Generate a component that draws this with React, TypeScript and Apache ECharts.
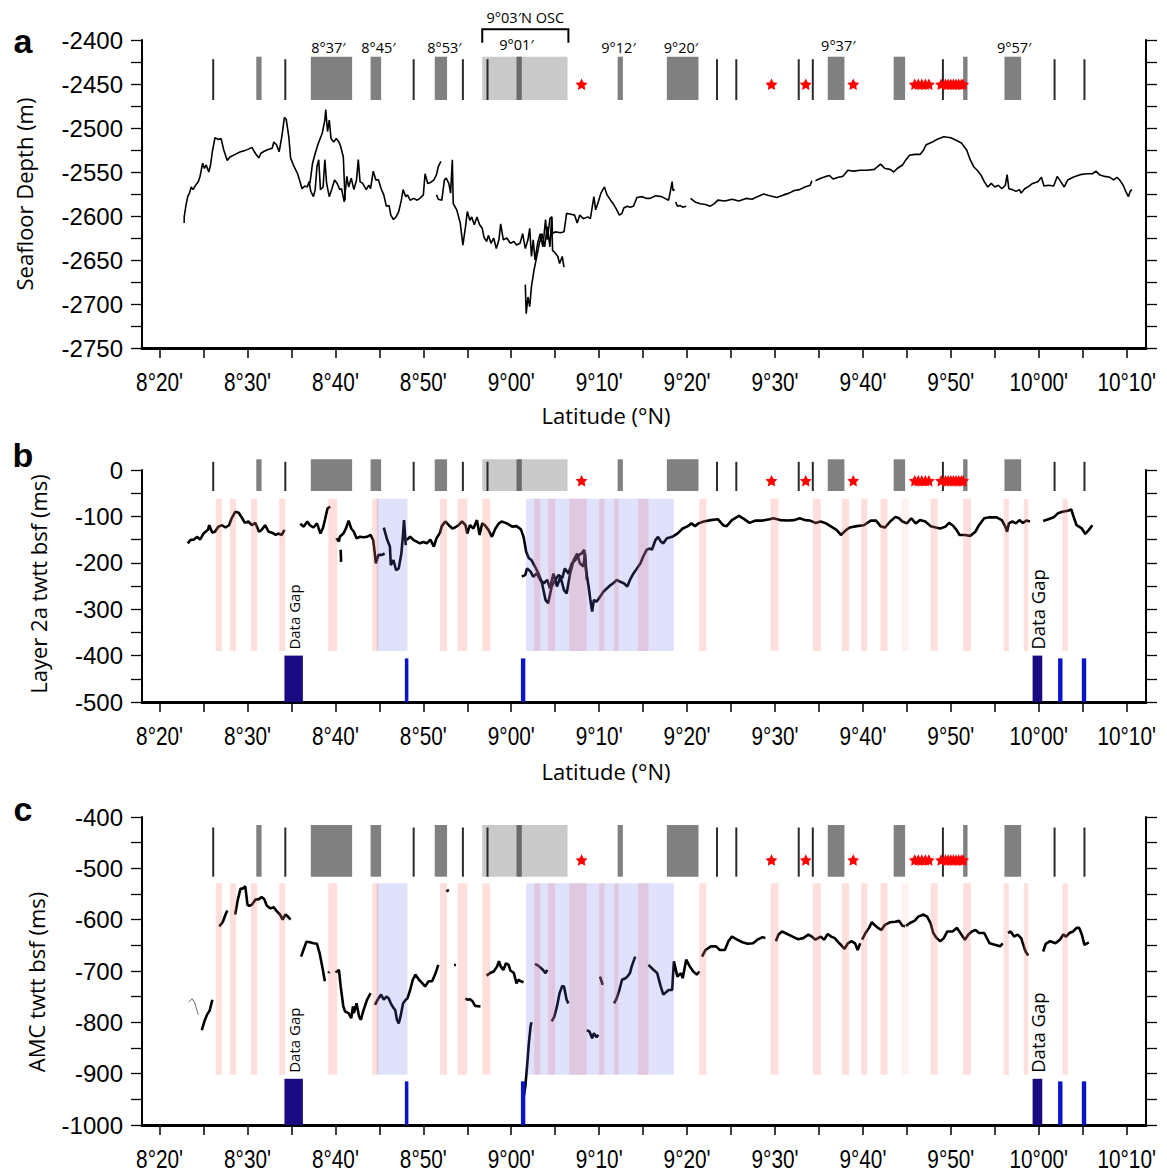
import React, { useEffect, useRef } from "react";
import * as echarts from "echarts";

// ---------- axes (latitude in minutes: 500 = 8°20') ----------
const X_MIN = 498;
const X_MAX = 612.2;
const X_TICKS = [500, 505, 510, 515, 520, 525, 530, 535, 540, 545, 550, 555, 560, 565, 570, 575, 580, 585, 590, 595, 600, 605, 610];
const X_LABELS = [500, 510, 520, 530, 540, 550, 560, 570, 580, 590, 600, 610];

// ---------- panel a: seafloor depth (m) ----------
const seafloorMain = [[502.8,-2608],[502.8,-2601],[503.0,-2588],[503.2,-2578],[503.4,-2574],[503.6,-2567],[503.8,-2570],[504.1,-2565],[504.4,-2561],[504.6,-2555],[504.9,-2540],[505.1,-2546],[505.3,-2542],[505.6,-2550],[505.8,-2542],[506.0,-2527],[506.3,-2511],[506.7,-2513],[507.0,-2512],[507.3,-2525],[507.7,-2537],[508.0,-2533],[508.6,-2530],[509.2,-2527],[509.6,-2526],[510.1,-2524],[510.5,-2522],[510.9,-2529],[511.3,-2534],[511.5,-2529],[511.8,-2527],[512.2,-2525],[512.8,-2523],[513.0,-2516],[513.3,-2519],[513.6,-2527],[513.9,-2510],[514.2,-2488],[514.4,-2490],[514.7,-2510],[514.9,-2534],[515.3,-2544],[515.7,-2552],[516.0,-2562],[516.2,-2569],[516.5,-2566],[516.8,-2567],[517.0,-2561],[517.2,-2572],[517.5,-2578],[517.7,-2570],[517.9,-2544],[518.1,-2536],[518.3,-2570],[518.6,-2567],[518.8,-2536],[519.0,-2563],[519.3,-2578],[519.6,-2569],[519.9,-2559],[520.2,-2563],[520.5,-2570],[520.7,-2569],[521.0,-2584],[521.3,-2555],[521.5,-2567],[521.8,-2557],[522.1,-2570],[522.4,-2559],[522.6,-2536],[522.8,-2561],[523.1,-2563],[523.5,-2570],[523.8,-2565],[524.0,-2569],[524.3,-2549],[524.6,-2559],[524.9,-2559],[525.2,-2569],[525.5,-2576],[525.8,-2589],[526.1,-2588],[526.3,-2599],[526.6,-2604],[526.9,-2601],[527.2,-2595],[527.5,-2582],[527.7,-2570],[528.0,-2578],[528.2,-2576],[528.5,-2582],[528.9,-2580],[529.3,-2582],[529.6,-2580],[530.0,-2576],[530.2,-2552],[530.5,-2563],[530.8,-2562],[531.2,-2559],[531.5,-2553],[531.7,-2544],[532.0,-2538]];
const seafloorUpper = [[517.1,-2563],[517.4,-2540],[517.7,-2529],[518.0,-2519],[518.3,-2511],[518.5,-2506],[518.8,-2491],[518.9,-2479],[519.1,-2504],[519.3,-2491],[519.5,-2512],[519.8,-2516],[520.1,-2512],[520.4,-2516],[520.6,-2521],[520.9,-2533],[521.1,-2582]];
const seafloorCenter = [[531.5,-2576],[531.7,-2581],[532.1,-2582],[532.4,-2559],[532.6,-2557],[532.9,-2563],[533.1,-2574],[533.3,-2536],[533.4,-2586],[533.8,-2593],[534.2,-2608],[534.5,-2633],[534.8,-2612],[535.0,-2595],[535.3,-2605],[535.5,-2601],[535.8,-2610],[536.1,-2601],[536.4,-2610],[536.7,-2614],[536.9,-2624],[537.2,-2629],[537.4,-2622],[537.7,-2631],[538.0,-2625],[538.3,-2637],[538.6,-2627],[538.8,-2609],[539.1,-2627],[539.5,-2625],[539.9,-2631],[540.3,-2629],[540.6,-2633],[541.0,-2631],[541.3,-2620],[541.6,-2637],[541.9,-2627],[542.1,-2614],[542.3,-2646],[542.5,-2627],[542.7,-2650],[543.0,-2631],[543.3,-2620],[543.6,-2635],[543.9,-2604],[544.1,-2627],[544.4,-2603],[544.6,-2601],[544.7,-2620],[545.0,-2618],[545.6,-2619],[546.0,-2618],[546.3,-2597],[546.8,-2598],[547.2,-2599],[547.5,-2608],[547.8,-2599],[548.2,-2603],[548.7,-2601],[549.0,-2603],[549.4,-2578],[549.6,-2593],[549.9,-2584],[550.2,-2574],[550.6,-2567],[550.9,-2576],[551.3,-2582],[551.6,-2586],[552.0,-2593],[552.3,-2599],[552.6,-2597],[552.8,-2591],[553.2,-2589],[553.5,-2590],[553.9,-2589],[554.3,-2579],[554.9,-2578],[555.4,-2580],[555.8,-2580],[556.4,-2577],[557.1,-2578],[557.9,-2582],[558.1,-2572],[558.3,-2561],[558.4,-2571],[558.6,-2570]];
const seafloorDeep = [[541.6,-2678],[541.7,-2711],[541.9,-2692],[542.1,-2703],[542.3,-2680],[542.6,-2661],[542.9,-2646],[543.2,-2631],[543.5,-2620],[543.8,-2635],[544.1,-2612],[544.4,-2635],[544.6,-2601],[544.7,-2639],[545.0,-2642],[545.3,-2646],[545.5,-2654],[545.8,-2646],[546.0,-2658]];
const seafloorShort = [[558.7,-2584],[558.9,-2589],[559.2,-2588],[559.5,-2590],[559.9,-2589]];
const seafloorNorthA = [[560.4,-2580],[560.9,-2584],[561.5,-2586],[562.1,-2587],[562.6,-2589],[563.1,-2586],[563.5,-2582],[564.3,-2583],[565.1,-2581],[565.9,-2583],[566.7,-2580],[567.4,-2581],[568.0,-2578],[568.7,-2575],[569.4,-2577],[570.2,-2579],[571.0,-2576],[571.6,-2574],[572.2,-2571],[572.8,-2570],[573.4,-2567],[574.0,-2565],[574.2,-2560]];
const seafloorNorthB = [[574.6,-2560],[575.2,-2557],[575.8,-2555],[576.2,-2554],[576.6,-2558],[577.2,-2556],[577.7,-2555],[578.3,-2548],[578.9,-2549],[579.7,-2548],[580.5,-2548],[581.3,-2547],[582.0,-2541],[582.5,-2546],[583.1,-2547],[583.5,-2550],[583.9,-2546],[584.5,-2542],[584.9,-2536],[585.3,-2531],[585.9,-2530],[586.5,-2530],[586.9,-2525],[587.2,-2519],[587.9,-2516],[588.4,-2513],[589.2,-2510],[590.0,-2511],[590.6,-2514],[591.2,-2517],[591.8,-2525],[592.2,-2536],[592.6,-2544],[593.0,-2548],[593.4,-2553],[593.8,-2561],[594.2,-2567],[594.6,-2563],[595.0,-2567],[595.4,-2565],[595.8,-2569],[596.2,-2565],[596.4,-2553],[596.6,-2569],[597.0,-2570],[597.4,-2572],[597.8,-2570],[598.0,-2574],[598.4,-2569],[598.9,-2566],[599.3,-2563],[599.9,-2561],[600.3,-2556],[600.6,-2566],[601.1,-2565],[601.7,-2566],[602.1,-2555],[602.5,-2561],[602.9,-2567],[603.3,-2559],[603.9,-2556],[604.7,-2553],[605.5,-2552],[606.1,-2552],[606.5,-2549],[606.9,-2553],[607.5,-2555],[608.1,-2556],[608.5,-2559],[608.9,-2556],[609.2,-2559],[609.6,-2565],[609.9,-2572],[610.2,-2578],[610.4,-2572],[610.6,-2570]];
const SEAFLOOR_SEGMENTS = [seafloorMain, seafloorUpper, seafloorCenter, seafloorDeep, seafloorShort, seafloorNorthA, seafloorNorthB];

// ---------- panel b: layer 2a twtt bsf (ms) ----------
const layerSouth = [[503.2,-158],[503.5,-151],[503.9,-150],[504.3,-144],[504.6,-150],[505.0,-137],[505.5,-129],[505.65,-119],[506.0,-135],[506.3,-133],[506.7,-122],[507.1,-119],[507.5,-124],[507.9,-119],[508.2,-104],[508.6,-90],[509.0,-92],[509.4,-104],[509.7,-114],[510.1,-111],[510.5,-119],[510.9,-114],[511.3,-133],[511.6,-129],[512.0,-119],[512.4,-133],[512.8,-135],[513.2,-140],[513.5,-137],[513.9,-140],[514.2,-129]];
const layerGapNorth = [[516.0,-116],[516.4,-122],[516.8,-111],[517.1,-119],[517.5,-124],[517.9,-115],[518.3,-137],[518.6,-124],[518.8,-108],[519.1,-83],[519.4,-79]];
const layerMid = [[520.1,-147],[520.4,-154],[520.5,-144],[520.9,-137],[521.2,-126],[521.5,-109],[521.8,-126],[522.1,-133],[522.4,-147],[522.8,-144],[523.2,-145],[523.6,-144],[524.0,-140],[524.3,-151],[524.5,-183],[524.6,-201],[524.9,-183],[525.3,-183],[525.6,-180]];
const layerBit = [[520.6,-172],[520.65,-198]];
const layerBox1 = [[525.5,-124],[525.9,-151],[526.2,-165],[526.3,-205],[526.6,-194],[526.9,-216],[527.2,-212],[527.5,-180],[527.7,-137],[527.8,-108],[528.0,-162]];
const layerLong = [[528.1,-151],[528.5,-144],[528.9,-151],[529.3,-155],[529.6,-158],[530.0,-155],[530.4,-158],[530.8,-150],[531.2,-165],[531.5,-147],[531.9,-135],[532.1,-121],[532.5,-111],[532.9,-119],[533.3,-126],[533.6,-124],[534.0,-119],[534.4,-111],[534.8,-119],[535.0,-137],[535.3,-119],[535.7,-126],[536.1,-108],[536.4,-140],[536.7,-115],[537.0,-119],[537.4,-129],[537.8,-144],[538.2,-126],[538.6,-115],[538.9,-111],[539.5,-115],[540.1,-122],[540.6,-121],[541.1,-128],[541.4,-144],[541.7,-176],[542.0,-190],[542.3,-194],[542.7,-208],[543.1,-223],[543.5,-244],[543.9,-280],[544.2,-287],[544.6,-251],[545.0,-237],[545.4,-226],[545.8,-233],[546.1,-212],[546.5,-223],[546.9,-201],[547.3,-194],[547.7,-183],[548.0,-180],[548.3,-172],[548.5,-216],[548.8,-251],[549.0,-280],[549.2,-305],[549.4,-280],[549.7,-284],[550.1,-273],[550.5,-262],[550.9,-255],[551.3,-248],[551.6,-244],[552.0,-237],[552.4,-241],[552.8,-244],[553.2,-251],[553.5,-237],[553.9,-223],[554.3,-212],[554.7,-201],[555.0,-187],[555.4,-172],[555.8,-169],[556.0,-172],[556.4,-151],[556.7,-144],[557.0,-154],[557.3,-158],[557.7,-147],[558.3,-144],[558.9,-137],[559.5,-126],[560.1,-121],[560.5,-115],[560.9,-121],[561.3,-115],[561.9,-111],[562.7,-108],[563.5,-106],[564.1,-119],[564.5,-121],[565.1,-108],[565.9,-99],[566.5,-106],[567.1,-114],[567.8,-109],[568.6,-109],[569.4,-106],[569.8,-104],[570.6,-108],[571.4,-109],[572.2,-108],[572.8,-104],[573.4,-108],[574.0,-109],[574.6,-114],[575.2,-111],[575.8,-115],[576.4,-122],[577.0,-129],[577.5,-140],[578.1,-129],[578.5,-124],[579.3,-121],[580.1,-119],[580.9,-109],[581.5,-109],[582.0,-121],[582.5,-124],[583.1,-111],[583.7,-101],[584.1,-104],[584.5,-111],[585.0,-115],[585.5,-104],[586.0,-115],[586.5,-108],[587.1,-111],[587.7,-121],[588.3,-124],[588.8,-126],[589.4,-122],[589.8,-114],[590.2,-119],[590.6,-128],[591.0,-140],[591.6,-140],[592.2,-142],[592.8,-133],[593.2,-119],[593.8,-104],[594.4,-102],[595.2,-102],[595.8,-108],[596.2,-122],[596.4,-133],[596.6,-115],[597.0,-111],[597.4,-115],[597.8,-108],[598.2,-114],[598.6,-109],[599.0,-111]];
const layerLoop = [[541.2,-230],[541.6,-226],[541.8,-212],[542.2,-219],[542.5,-230],[542.9,-223],[543.3,-237],[543.7,-244],[544.1,-237],[544.4,-255],[544.8,-223],[545.2,-251],[545.6,-230],[546.0,-259],[546.3,-266],[546.7,-223],[547.1,-194],[547.5,-180],[547.8,-201],[548.2,-208],[548.4,-180],[548.6,-237]];
const layerNorth = [[600.5,-110],[601.1,-106],[601.7,-102],[602.2,-93],[602.7,-90],[603.3,-88],[603.7,-85],[603.9,-97],[604.3,-119],[604.9,-126],[605.3,-138],[605.7,-129],[606.1,-119]];
const LAYER_SEGMENTS = [layerSouth, layerGapNorth, layerMid, layerBit, layerBox1, layerLong, layerLoop, layerNorth];

// ---------- panel c: AMC twtt bsf (ms) ----------
const amcThin = [[503.3,-761],[503.7,-754],[504.0,-762],[504.4,-785]];
const amc1 = [[504.8,-815],[505.1,-798],[505.4,-785],[505.7,-777],[506.0,-756]];
const amc2 = [[506.8,-613],[507.2,-604],[507.5,-590],[507.7,-582]];
const amc3 = [[508.6,-590],[508.9,-561],[509.2,-540],[509.5,-539],[509.75,-535],[510.0,-571],[510.2,-573],[510.5,-571],[510.9,-561],[511.3,-560],[511.6,-556],[511.9,-560],[512.2,-573],[512.6,-578],[513.0,-576],[513.35,-584],[513.7,-590],[514.0,-600],[514.3,-590],[514.6,-594],[514.9,-600]];
const amc4 = [[516.1,-672],[516.3,-662],[516.7,-643],[517.1,-644],[517.5,-646],[517.9,-647],[518.2,-665],[518.5,-691],[518.8,-720]];
const amc5 = [[519.2,-704],[519.3,-701]];
const amc6 = [[520.0,-703],[520.4,-698],[520.6,-730],[520.9,-769],[521.1,-779],[521.5,-782],[521.8,-792],[522.0,-769],[522.1,-782],[522.4,-763],[522.7,-789],[522.9,-795],[523.2,-776],[523.6,-756],[524.0,-743]];
const amc7 = [[524.5,-766],[524.9,-753],[525.2,-746],[525.5,-756],[525.8,-750],[526.05,-753],[526.3,-763],[526.6,-772],[526.8,-776],[527.0,-795],[527.2,-802],[527.4,-789],[527.7,-763],[528.0,-756],[528.2,-753],[528.5,-737],[528.8,-717],[529.1,-707],[529.5,-717],[529.8,-722],[530.2,-730],[530.6,-720],[531.0,-720],[531.4,-704],[531.7,-688]];
const amc8 = [[532.6,-545],[532.9,-542]];
const amc9 = [[533.5,-688],[533.7,-689]];
const amc10 = [[534.8,-753],[535.0,-756],[535.3,-755],[535.6,-759],[535.9,-768],[536.5,-769]];
const amc11 = [[537.2,-709],[537.6,-704],[538.0,-701],[538.4,-691],[538.6,-681],[538.8,-691],[539.1,-698],[539.4,-685],[539.7,-688],[539.9,-699],[540.3,-704],[540.6,-724],[540.8,-717],[541.1,-720],[541.4,-722]];
const amc12 = [[541.3,-958],[541.6,-925],[541.8,-886],[542.0,-841],[542.2,-808],[542.3,-800]];
const amc13 = [[542.7,-686],[543.1,-690],[543.5,-696],[543.9,-704],[544.1,-698]];
const amc14 = [[544.6,-798],[544.9,-789],[545.2,-769],[545.5,-743],[545.8,-729],[546.0,-730],[546.3,-756],[546.5,-763]];
const amc15 = [[548.6,-815],[548.9,-818],[549.2,-831],[549.4,-821],[549.7,-829],[549.9,-824]];
const amc16 = [[550.1,-711],[550.4,-727]];
const amc17 = [[551.7,-763],[552.0,-753],[552.3,-737],[552.6,-717],[553.0,-714],[553.2,-711],[553.5,-704],[553.7,-691],[554.1,-672]];
const amc18 = [[555.6,-688],[556.2,-698],[556.6,-704],[557.0,-730],[557.3,-746],[557.9,-737],[558.3,-737],[558.5,-681],[558.9,-711],[559.3,-704],[559.5,-714],[559.9,-678],[560.3,-691],[560.7,-701],[561.1,-707],[561.4,-701]];
const amc19 = [[561.7,-672],[562.1,-659],[562.7,-652],[563.3,-652],[563.7,-659],[564.3,-659],[564.7,-642],[565.1,-633],[565.7,-639],[566.3,-644],[566.9,-647],[567.5,-646],[568.0,-639],[568.6,-634],[568.9,-636]];
const amc20 = [[570.1,-642],[570.4,-629],[570.8,-623],[571.4,-628],[572.0,-633],[572.6,-638],[573.2,-636],[573.8,-629],[574.2,-633],[574.6,-639],[575.2,-633],[575.6,-639],[576.0,-628],[576.4,-633],[576.8,-636],[577.1,-642],[577.5,-649],[577.9,-657],[578.3,-646],[578.7,-642],[579.1,-646],[579.4,-659],[579.7,-646]];
const amc21 = [[579.9,-639],[580.3,-626],[580.7,-616],[581.0,-605],[581.3,-610],[581.7,-616],[582.1,-620],[582.5,-610],[583.1,-605],[583.7,-604],[584.1,-602],[584.5,-612],[584.8,-613]];
const amc22 = [[584.9,-612],[585.3,-607],[585.9,-602],[586.3,-594],[586.9,-590],[587.3,-594],[587.7,-607],[588.0,-626],[588.4,-636],[588.8,-642],[589.2,-636],[589.6,-623],[590.2,-623],[590.7,-616],[591.2,-629],[591.6,-639],[592.0,-629],[592.4,-623],[592.8,-620],[593.2,-626],[593.8,-626],[594.4,-646],[595.0,-649],[595.6,-652],[595.9,-646]];
const amc23 = [[596.5,-626],[596.8,-623],[597.2,-633],[597.6,-629],[598.0,-636],[598.3,-652],[598.5,-662],[598.8,-670]];
const amc24 = [[600.5,-662],[600.8,-647],[601.3,-642],[601.9,-646],[602.4,-639],[602.8,-629],[603.1,-633],[603.5,-626],[603.9,-623],[604.3,-616],[604.6,-616],[604.9,-629],[605.2,-649],[605.5,-646],[605.7,-644]];
const AMC_SEGMENTS = [amc1, amc2, amc3, amc4, amc5, amc6, amc7, amc8, amc9, amc10, amc11, amc12, amc13, amc14, amc15, amc16, amc17, amc18, amc19, amc20, amc21, amc22, amc23, amc24];

// ---------- ridge features (top strip of every panel) ----------
const featureLines = [506.1, 514.3, 528.9, 534.5, 537.3, 563.4, 565.6, 572.7, 574.3, 589.1, 601.8, 605.2];
const featureBars = [[511.0, 511.6], [517.2, 521.9], [524.0, 525.2], [531.3, 532.7], [552.1, 552.7], [557.7, 561.3], [576.0, 577.9], [583.5, 584.8], [591.4, 591.9], [596.1, 598.0]];
const oscBlock = [[536.7, 546.4]];
const oscDark = [[540.6, 541.2]];
const starLats = [548.0, 569.6, 573.5, 578.9, 585.9, 586.3, 586.7, 587.1, 587.5, 588.9, 589.4, 589.7, 590.0, 590.3, 590.6, 590.9, 591.2, 591.4];
const featureLabelLats = [519.2, 524.9, 532.4, 540.6, 552.2, 559.3, 577.2, 597.2];
const featureLabelTexts = ["8°37′", "8°45′", "8°53′", "9°01′", "9°12′", "9°20′", "9°37′", "9°57′"];
const oscBracket = [[536.7, 546.5]];
const oscLabelLat = [541.6];

// ---------- overlays in panels b and c ----------
const pinkStripes = [[506.4,507.1],[508.0,508.7],[510.4,511.1],[513.6,514.3],[519.2,520.2],[524.2,524.9],[531.9,532.7],[533.9,535.0],[536.7,537.6],[542.6,543.3],[544.2,545.0],[546.6,548.6],[550.0,550.6],[551.7,552.2],[554.4,555.6],[561.4,562.2],[569.5,570.4],[574.3,575.2],[577.6,578.4],[579.8,580.5],[582.0,582.8],[587.7,588.5],[591.4,592.3],[596.0,596.6],[598.3,598.8],[602.7,603.3]];
const pinkFaint = [[584.4, 585.2]];
const blueBoxes = [[524.7, 528.2], [541.7, 558.5]];
const stripeRangeB = [-62, -390];
const stripeRangeC = [-529, -902];
const gapNavy = [[514.2, 516.3], [599.3, 600.4]];
const gapBlue = [[527.9, 528.3], [541.1, 541.6], [602.2, 602.7], [604.9, 605.4]];
const gapTopB = [-400, -406];
const gapTopC = [-910, -915];
const dataGapLats = [515.25, 599.85];

// ---------- layout ----------
const GRID_LEFT = 142;
const GRID_RIGHT = 21;
const PANELS = [
  { top: 40, height: 308, min: -2750, max: -2400, interval: 25, labelStep: 50 },
  { top: 470, height: 232, min: -500, max: 0, interval: 50, labelStep: 100 },
  { top: 817, height: 308, min: -1000, max: -400, interval: 50, labelStep: 100 },
];
const BANDS = [
  { off: 16.7, h: 43.3, star: 44.3 },
  { off: -10.7, h: 31.7, star: 10.7 },
  { off: 8, h: 51.7, star: 43 },
];
const STAR_PATH = "M0,-10L2.94,-4.05L9.51,-3.09L4.76,1.55L5.88,8.09L0,5L-5.88,8.09L-4.76,1.55L-9.51,-3.09L-2.94,-4.05Z";
const SANS = "'Liberation Sans', Arial, sans-serif";
const MYRIAD = "'Open Sans', 'Noto Sans', sans-serif";

const latFmt = (v: number) => {
  const d = Math.floor(v / 60);
  const m = Math.round(v - d * 60);
  return `${d}°${String(m).padStart(2, "0")}'`;
};

function buildOption() {
  const grids: any[] = [];
  const xAxes: any[] = [];
  const yAxes: any[] = [];
  const series: any[] = [];

  PANELS.forEach((p, gi) => {
    grids.push({ left: GRID_LEFT, right: GRID_RIGHT, top: p.top, height: p.height, containLabel: false, outerBoundsMode: "none" });
    xAxes.push({
      gridIndex: gi, type: "value", min: X_MIN, max: X_MAX,
      axisLine: { show: true, onZero: false, lineStyle: { color: "#000", width: 3 } },
      axisTick: { show: true, inside: false, length: 10, customValues: X_TICKS, lineStyle: { color: "#000", width: 1.5 } },
      axisLabel: { show: false },
      splitLine: { show: false },
    });
    const yBase = {
      gridIndex: gi, type: "value", min: p.min, max: p.max, interval: p.interval,
      axisLine: { show: true, onZero: false, lineStyle: { color: "#000", width: 2 } },
      axisTick: { show: true, inside: false, length: 11, lineStyle: { color: "#000", width: 1.3 } },
      splitLine: { show: false },
    };
    yAxes.push({
      ...yBase, position: "left",
      axisLabel: { show: true, margin: 19, fontSize: 24, fontFamily: SANS, color: "#000",
        formatter: (v: number) => (Math.round(v) % p.labelStep === 0 ? String(Math.round(v)) : "") },
    });
    yAxes.push({ ...yBase, position: "right", axisLabel: { show: false } });

    // condensed latitude tick labels
    series.push({
      type: "custom", xAxisIndex: gi, yAxisIndex: gi * 2, z: 6, silent: true, clip: false,
      data: X_LABELS.map((v) => [v, p.min]), encode: { x: 0, y: 1 },
      renderItem: (_prm: any, api: any) => {
        const pt = api.coord([api.value(0), p.min]);
        return { type: "text", x: pt[0], y: pt[1] + 34, scaleX: 0.8,
          style: { text: latFmt(api.value(0)), fill: "#000", fontSize: 26, fontFamily: SANS, align: "center", verticalAlign: "middle" } };
      },
    });
  });

  const lineSeries = (seg: number[][], gi: number, width: number, color = "#000") => ({
    type: "line", xAxisIndex: gi, yAxisIndex: gi * 2, data: seg, showSymbol: false, symbol: "none",
    lineStyle: { color, width }, z: 2, silent: true, animation: false,
  });
  SEAFLOOR_SEGMENTS.forEach((s) => series.push(lineSeries(s, 0, 1.6)));
  LAYER_SEGMENTS.forEach((s) => series.push(lineSeries(s, 1, 2.6)));
  series.push(lineSeries(amcThin, 2, 0.8, "#444"));
  AMC_SEGMENTS.forEach((s) => series.push(lineSeries(s, 2, 2.6)));

  const rectSeries = (gi: number, rects: number[][], fill: string, z: number) => ({
    type: "custom", xAxisIndex: gi, yAxisIndex: gi * 2, z, silent: true, clip: false,
    data: rects, encode: { x: [0, 1], y: [2, 3] },
    renderItem: (_p: any, api: any) => {
      const a = api.coord([api.value(0), api.value(2)]);
      const b = api.coord([api.value(1), api.value(3)]);
      return { type: "rect", shape: { x: Math.min(a[0], b[0]), y: Math.min(a[1], b[1]), width: Math.abs(b[0] - a[0]), height: Math.abs(b[1] - a[1]) }, style: { fill } };
    },
  });

  [[1, stripeRangeB, gapTopB], [2, stripeRangeC, gapTopC]].forEach(([gi, rng, gapTop]: any) => {
    const ymin = PANELS[gi].min;
    series.push(rectSeries(gi, pinkStripes.map((s) => [s[0], s[1], rng[0], rng[1]]), "rgba(250,120,110,0.24)", 3));
    series.push(rectSeries(gi, pinkFaint.map((s) => [s[0], s[1], rng[0], rng[1]]), "rgba(250,120,110,0.1)", 3));
    series.push(rectSeries(gi, blueBoxes.map((s) => [s[0], s[1], rng[0], rng[1]]), "rgba(100,110,240,0.2)", 3));
    series.push(rectSeries(gi, gapNavy.map((s) => [s[0], s[1], gapTop[0], ymin]), "#1a0a82", 4));
    series.push(rectSeries(gi, gapBlue.map((s) => [s[0], s[1], gapTop[1], ymin]), "#0a14c8", 4));
    series.push({
      type: "custom", xAxisIndex: gi, yAxisIndex: gi * 2, z: 6, silent: true, clip: false,
      data: dataGapLats.map((l) => [l, gapTop[0]]), encode: { x: 0, y: 1 },
      renderItem: (_p: any, api: any) => {
        const pt = api.coord([api.value(0), api.value(1)]);
        const big = _p.dataIndex === 1;
        return { type: "text", x: pt[0], y: pt[1] - 6, rotation: Math.PI / 2,
          style: { text: "Data Gap", fill: "#000", fontSize: big ? 18.5 : 15, fontFamily: MYRIAD, align: "left", verticalAlign: "middle" } };
      },
    });
  });

  PANELS.forEach((p, gi) => {
    const b = BANDS[gi];
    const xOf = (api: any, v: number) => api.coord([v, p.min])[0];
    const base = { type: "custom", xAxisIndex: gi, yAxisIndex: gi * 2, z: 5, silent: true, clip: false };
    const bandRect = (data: number[][], fill: string) => ({
      ...base, data: data.map((d) => [d[0], d[1], p.min]), encode: { x: [0, 1], y: 2 },
      renderItem: (prm: any, api: any) => {
        const x0 = xOf(api, api.value(0));
        const x1 = xOf(api, api.value(1));
        return { type: "rect", shape: { x: x0, y: prm.coordSys.y + b.off, width: Math.max(x1 - x0, 1), height: b.h }, style: { fill } };
      },
    });
    series.push(bandRect(oscBlock, "#c9c9c9"));
    series.push(bandRect(featureBars, "#808080"));
    series.push(bandRect(oscDark, "#6a6a6a"));
    series.push({
      ...base, data: featureLines.map((v) => [v, p.min]), encode: { x: 0, y: 1 },
      renderItem: (prm: any, api: any) => {
        const x = xOf(api, api.value(0));
        const t = prm.coordSys.y + b.off;
        return { type: "line", shape: { x1: x, y1: t + 2.5, x2: x, y2: t + b.h }, style: { stroke: "#2a2a2a", lineWidth: 2 } };
      },
    });
    series.push({
      ...base, data: starLats.map((v) => [v, p.min]), encode: { x: 0, y: 1 },
      renderItem: (prm: any, api: any) => {
        const x = xOf(api, api.value(0));
        const y = prm.coordSys.y + b.star;
        return { type: "path", shape: { pathData: STAR_PATH, x: x - 6, y: y - 6, width: 12, height: 12 }, style: { fill: "#ff0000" } };
      },
    });
  });

  const base0 = { type: "custom", xAxisIndex: 0, yAxisIndex: 0, z: 6, silent: true, clip: false };
  const labelOff = [7.5, 7.5, 7.5, 4.2, 7.5, 7.5, 5.3, 7.8];
  series.push({
    ...base0, data: featureLabelLats.map((v) => [v, PANELS[0].min]), encode: { x: 0, y: 1 },
    renderItem: (prm: any, api: any) => {
      const x = api.coord([api.value(0), PANELS[0].min])[0];
      return { type: "text", x, y: prm.coordSys.y + labelOff[prm.dataIndex],
        style: { text: featureLabelTexts[prm.dataIndex], fill: "#000", fontSize: 14.5, fontFamily: MYRIAD, align: "center", verticalAlign: "middle" } };
    },
  });
  series.push({
    ...base0, data: oscBracket.map((d) => [d[0], d[1], PANELS[0].min]), encode: { x: [0, 1], y: 2 },
    renderItem: (prm: any, api: any) => {
      const x0 = api.coord([api.value(0), PANELS[0].min])[0];
      const x1 = api.coord([api.value(1), PANELS[0].min])[0];
      const t = prm.coordSys.y;
      return { type: "polyline", shape: { points: [[x0, t + 2.7], [x0, t - 10.7], [x1, t - 10.7], [x1, t + 2.7]] }, style: { stroke: "#000", lineWidth: 2, fill: null } };
    },
  });
  series.push({
    ...base0, data: oscLabelLat.map((v) => [v, PANELS[0].min]), encode: { x: 0, y: 1 },
    renderItem: (prm: any, api: any) => {
      const x = api.coord([api.value(0), PANELS[0].min])[0];
      return { type: "text", x, y: prm.coordSys.y - 23,
        style: { text: "9°03′N OSC", fill: "#000", fontSize: 14.5, fontFamily: MYRIAD, align: "center", verticalAlign: "middle" } };
    },
  });

  const txt = (text: string, x: number, y: number, opts: any = {}) => ({
    type: "text", x, y, rotation: opts.rotation || 0, silent: true,
    style: { text, fill: "#000", fontSize: opts.fontSize || 22, fontFamily: opts.fontFamily || MYRIAD, fontWeight: opts.fontWeight || "normal", align: "center", verticalAlign: "middle" },
  });

  const graphic = [
    txt("a", 23, 41, { fontSize: 34, fontWeight: "bold", fontFamily: SANS }),
    txt("b", 23, 455, { fontSize: 34, fontWeight: "bold", fontFamily: SANS }),
    txt("c", 23, 809, { fontSize: 34, fontWeight: "bold", fontFamily: SANS }),
    txt("Seafloor Depth (m)", 24, 194, { rotation: Math.PI / 2 }),
    txt("Layer 2a twtt bsf (ms)", 38, 584, { rotation: Math.PI / 2 }),
    txt("AMC twtt bsf (ms)", 36, 982, { rotation: Math.PI / 2 }),
    txt("Latitude (°N)", 606, 415),
    txt("Latitude (°N)", 606, 771),
  ];

  return {
    animation: false,
    backgroundColor: "#fff",
    grid: grids,
    xAxis: xAxes,
    yAxis: yAxes,
    series,
    graphic,
  };
}

export default function App() {
  const ref = useRef<HTMLDivElement>(null);
  useEffect(() => {
    document.body.style.margin = "0";
    const chart = echarts.init(ref.current as HTMLDivElement, null, { renderer: "svg" });
    chart.setOption(buildOption() as any);
    return () => chart.dispose();
  }, []);
  return <div ref={ref} style={{ width: 1167, height: 1174 }} />;
}
